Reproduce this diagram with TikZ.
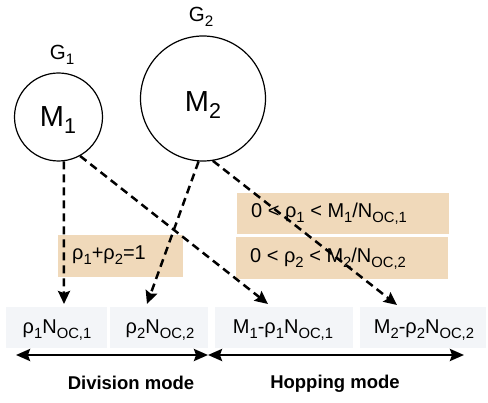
\documentclass[tikz,border=0pt]{standalone}
\usepackage{fontspec}
\setmainfont{Liberation Sans}
\usetikzlibrary{arrows.meta}
\definecolor{tan}{HTML}{F0D9BA}
\definecolor{pale}{HTML}{F3F5F8}
\newcommand{\lo}[1]{\raisebox{-0.45ex}{\scalebox{0.74}{#1}}}
\begin{document}
\begin{tikzpicture}[x=1pt,y=-1pt,
  grp/.style={draw=black,line width=1.2pt,circle,inner sep=0pt},
  cell/.style={fill=pale,draw=none,minimum height=41pt,inner sep=0pt},
  cond/.style={fill=tan,draw=none,inner sep=0pt},
  dasharrow/.style={line width=2.5pt,dash pattern=on 8pt off 5pt,-{Stealth[length=13pt,width=12pt,inset=2pt]},shorten >=0pt},
  modearrow/.style={line width=2.5pt,{Stealth[length=14pt,width=12pt,inset=2pt]}-{Stealth[length=14pt,width=12pt,inset=2pt]}},
  lab/.style={font=\fontsize{20.5}{24}\selectfont,inner sep=0pt},
  txt/.style={font=\fontsize{20}{24}\selectfont,inner sep=0pt},
  mode/.style={font=\fontsize{18.5}{22}\bfseries\selectfont,inner sep=0pt}]
\useasboundingbox (0,0) rectangle (488,403);
% circles
\node[grp,minimum size=88pt] (c1) at (58.5,117) {};
\node[grp,minimum size=125pt] (c2) at (203,98.5) {};
\node[font=\fontsize{29}{34}\selectfont,inner sep=0pt] (m1) at (58,120) {M\lo{1}};
\node[font=\fontsize{29}{34}\selectfont,inner sep=0pt] (m2) at (203,105) {M\lo{2}};
\node[lab] (g1) at (62,55) {G\lo{1}};
\node[lab] (g2) at (201,17) {G\lo{2}};
% bottom cells
\node[cell,minimum width=101pt] (b1) at (56.5,327.5) {};
\node[cell,minimum width=98pt] (b2) at (159,327.5) {};
\node[cell,minimum width=138pt] (b3) at (284,327.5) {};
\node[cell,minimum width=126pt] (b4) at (423,327.5) {};
\node[txt] at (57,330) {ρ\lo{1}N\lo{OC,1}};
\node[txt] at (160,330) {ρ\lo{2}N\lo{OC,2}};
\node[txt] at (283,330) {M\lo{1}-ρ\lo{1}N\lo{OC,1}};
\node[txt] at (424,330) {M\lo{2}-ρ\lo{2}N\lo{OC,2}};
% condition boxes
\node[cond,minimum width=125pt,minimum height=42pt] (t0) at (120.5,256) {};
\node[txt] at (109,255) {ρ\lo{1}+ρ\lo{2}=1};
\node[cond,minimum width=212pt,minimum height=41pt] (ta) at (343,213.5) {};
\node[cond,minimum width=212pt,minimum height=42pt] (tb) at (342,258) {};
\node[txt,anchor=west] at (251,214) {0 < ρ\lo{1} < M\lo{1}/N\lo{OC,1}};
\node[txt,anchor=west] at (250,259) {0 < ρ\lo{2} < M\lo{2}/N\lo{OC,2}};
% connector end points
\coordinate (e1) at (64,304);
\coordinate (e2) at (147,304);
\coordinate (e3) at (268,304);
\coordinate (e4) at (397,305);
\draw[dasharrow] (c1.-83) -- (e1);
\draw[dasharrow] (c1.-61) -- (e3);
\draw[dasharrow] (c2.-94) -- (e2);
\draw[dasharrow] (c2.-81) -- (e4);
% mode arrows
\coordinate (l0) at (16,355);
\coordinate (l1) at (208,355);
\coordinate (l2) at (464,355);
\draw[modearrow] (l0) -- (l1);
\draw[modearrow] (l1) -- (l2);
\node[mode] (dm) at (131,383) {Division mode};
\node[mode] (hm) at (335,384) {Hopping mode};
\end{tikzpicture}
\end{document}
